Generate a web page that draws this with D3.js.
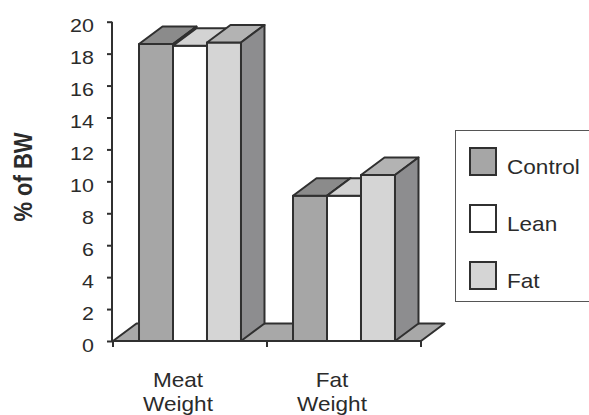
<!DOCTYPE html>
<html>
<head>
<meta charset="utf-8">
<script src="https://cdn.jsdelivr.net/npm/d3@7"></script>
<style>
  html, body { margin: 0; padding: 0; background: #fff; }
  svg { display: block; }
  text { font-family: "Liberation Sans", Arial, sans-serif; fill: #2b2b2b; }
</style>
</head>
<body>
<svg id="chart" width="589" height="415"></svg>
<script>
// Body-composition data (% of body weight)
const categories = ["Meat Weight", "Fat Weight"];
const seriesNames = ["Control", "Lean", "Fat"];
const controlValues = [18.6, 9.1];
const leanValues = [18.5, 9.1];
const fatValues = [18.7, 10.4];
const yTickValues = [0, 2, 4, 6, 8, 10, 12, 14, 16, 18, 20];

const seriesValues = [controlValues, leanValues, fatValues];
const frontFill = ["#a6a6a6", "#ffffff", "#d5d5d5"];
const topFill = ["#8b8b8b", "#d3d3d3", "#b3b3b3"];
const sideFill = ["#8b8b8b", "#c0c0c0", "#8d8d8f"];
const edge = "#303030";
const stretch = 1.13;          // text is drawn slightly widened
const depth = { dx: 23.5, dy: -17.5 };

const svg = d3.select("#chart");

const x = d3.scaleBand().domain(categories).range([113, 421]).paddingInner(0).paddingOuter(0);
const xs = d3.scaleBand().domain(seriesNames).range([0, x.bandwidth()]).paddingInner(0).paddingOuter(0.765);
const y = d3.scaleLinear().domain([0, 20]).range([341, 21.7]);

const pts = arr => arr.map(p => p.join(",")).join(" ");

// Floor of the 3-D plot area
const [fx0, fx1] = x.range();
const y0 = y(0);
svg.append("polygon")
  .attr("points", pts([[fx0, y0], [fx1, y0], [fx1 + depth.dx, y0 + depth.dy], [fx0 + depth.dx, y0 + depth.dy]]))
  .attr("fill", "#a8a8a8")
  .attr("stroke", edge)
  .attr("stroke-width", 2)
  .attr("stroke-linejoin", "round");

// Bars: front face, top and right side of each column
const bars = [];
categories.forEach((c, ci) => {
  seriesNames.forEach((s, si) => {
    bars.push({ c, s, si, v: seriesValues[si][ci] });
  });
});

const g = svg.append("g").attr("stroke", edge).attr("stroke-width", 2).attr("stroke-linejoin", "round");
bars.forEach(b => {
  const bx = x(b.c) + xs(b.s);
  const bw = xs.bandwidth();
  const yt = y(b.v);
  g.append("rect")
    .attr("x", bx).attr("y", yt).attr("width", bw).attr("height", y0 - yt)
    .attr("fill", frontFill[b.si]);
  g.append("polygon")
    .attr("points", pts([[bx, yt], [bx + bw, yt], [bx + bw + depth.dx, yt + depth.dy], [bx + depth.dx, yt + depth.dy]]))
    .attr("fill", topFill[b.si]);
  g.append("polygon")
    .attr("points", pts([[bx + bw, yt], [bx + bw, y0], [bx + bw + depth.dx, y0 + depth.dy], [bx + bw + depth.dx, yt + depth.dy]]))
    .attr("fill", sideFill[b.si]);
});

// Value axis
const yAxisG = svg.append("g").attr("transform", "translate(112,0)");
yAxisG.call(d3.axisLeft(y).tickValues(yTickValues).tickSize(5).tickFormat(""));
yAxisG.select(".domain").attr("stroke", edge).attr("stroke-width", 2).attr("d", `M0,${y(20)}V${y0}`);
yAxisG.selectAll(".tick line").attr("stroke", edge).attr("stroke-width", 2);
yAxisG.selectAll(".tick").append("text")
  .attr("transform", `translate(-18,10) scale(${stretch},1)`)
  .attr("text-anchor", "end")
  .attr("font-size", 19)
  .attr("fill", "#2b2b2b")
  .text(d => d);

// Category axis (front edge of the floor)
const xAxisG = svg.append("g").attr("transform", `translate(0,${y0})`);
xAxisG.call(d3.axisBottom(x).tickSize(6).tickFormat(""));
xAxisG.select(".domain").attr("stroke", edge).attr("stroke-width", 2).attr("d", `M${fx0},0H${fx1}`);
xAxisG.selectAll(".tick").remove();
const boundaries = [fx0, ...categories.map(c => x(c) + x.bandwidth())];
xAxisG.selectAll("line.cat-tick").data(boundaries).join("line")
  .attr("class", "cat-tick")
  .attr("x1", d => d).attr("x2", d => d).attr("y1", 0).attr("y2", 6)
  .attr("stroke", edge).attr("stroke-width", 2);

categories.forEach(c => {
  const cx = x(c) + x.bandwidth() / 2 - 12;
  const t = svg.append("text")
    .attr("transform", `translate(${cx},0) scale(${stretch},1)`)
    .attr("text-anchor", "middle")
    .attr("font-size", 20);
  c.split(" ").forEach((word, i) => {
    t.append("tspan").attr("x", 0).attr("y", 387 + i * 24.5).text(word);
  });
});

// Axis title
svg.append("text")
  .attr("transform", `translate(31.5,177) scale(${stretch},1) rotate(-90)`)
  .attr("text-anchor", "middle")
  .attr("font-size", 22)
  .attr("font-weight", "bold")
  .text("% of BW");

// Legend
const legend = svg.append("g");
legend.append("rect")
  .attr("x", 455.5).attr("y", 130.5).attr("width", 140).attr("height", 171)
  .attr("fill", "#fff").attr("stroke", "#555").attr("stroke-width", 1);
seriesNames.forEach((s, i) => {
  const ly = 148 + i * 57;
  legend.append("rect")
    .attr("x", 470).attr("y", ly).attr("width", 26).attr("height", 27)
    .attr("fill", frontFill[i]).attr("stroke", edge).attr("stroke-width", 2);
  legend.append("text")
    .attr("transform", `translate(507,${ly + 26}) scale(${stretch},1)`)
    .attr("font-size", 20)
    .text(s);
});
</script>
</body>
</html>
